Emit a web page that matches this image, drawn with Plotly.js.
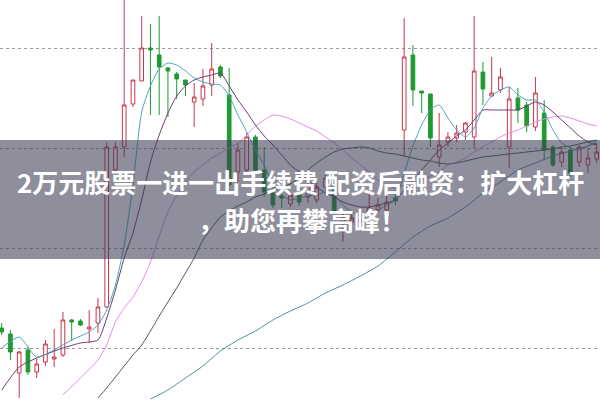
<!DOCTYPE html>
<html>
<head>
<meta charset="utf-8">
<script src="https://cdn.plot.ly/plotly-3.0.1.min.js"></script>
<style>html,body{margin:0;padding:0;background:#fff;}#chart{width:600px;height:400px;}</style>
</head>
<body>
<div id="chart"></div>
<script>
// OHLC values (69 candles)
const openP  = [9.20,9.14,8.75,8.98,8.76,8.86,8.89,8.93,9.28,9.27,9.19,9.25,9.41,10.78,11.01,11.44,11.67,12.00,11.93,11.80,11.74,11.68,11.46,11.49,11.63,11.81,11.53,10.76,10.78,11.11,10.78,10.55,10.52,10.44,10.56,10.51,10.48,10.61,10.60,10.26,10.26,10.26,10.36,10.38,10.38,10.50,11.18,11.93,11.57,11.54,10.91,11.06,11.10,11.16,11.11,11.76,11.52,11.58,11.01,11.50,11.43,11.21,11.35,11.01,10.86,10.98,10.86,10.83,10.89];
const highP  = [9.25,9.18,8.97,9.02,8.89,9.08,9.19,9.36,9.29,9.29,9.38,9.50,11.06,11.06,12.53,11.68,12.32,12.24,12.32,11.81,11.76,11.68,11.65,11.79,12.05,11.83,11.80,11.05,11.15,11.13,11.01,10.61,10.55,10.56,10.60,10.71,10.65,10.73,10.66,10.35,10.34,10.30,10.55,10.50,10.58,10.58,12.30,12.03,11.57,11.54,11.35,11.16,11.23,11.26,12.32,11.86,11.91,11.80,11.61,11.60,11.46,11.71,11.48,11.03,11.01,11.01,11.03,11.00,11.05];
const lowP   = [9.13,8.88,8.50,8.73,8.70,8.82,8.81,8.91,9.07,9.22,9.05,9.15,9.40,10.76,10.91,11.41,11.67,11.33,11.33,11.31,11.49,11.52,11.21,11.42,11.52,11.70,10.53,10.66,10.75,10.76,10.51,10.40,10.40,10.41,10.42,10.45,10.45,10.53,10.32,10.06,10.22,10.24,10.35,10.36,10.37,10.43,10.91,11.42,11.35,11.01,10.81,11.01,11.06,11.08,11.00,11.43,11.51,11.55,10.80,11.25,11.16,11.17,10.88,10.81,10.81,10.71,10.81,10.75,10.85];
const closeP = [9.16,8.96,8.96,8.76,8.84,9.04,8.91,9.28,9.26,9.23,9.21,9.41,11.01,11.01,11.43,11.68,12.00,11.98,11.81,11.77,11.69,11.63,11.51,11.62,11.79,11.72,10.63,10.98,11.11,10.78,10.56,10.43,10.50,10.53,10.46,10.63,10.61,10.70,10.35,10.30,10.30,10.28,10.40,10.43,10.46,10.47,11.91,11.58,11.55,11.10,11.03,11.11,11.15,11.25,11.77,11.59,11.55,11.71,11.49,11.38,11.22,11.55,10.98,10.83,10.96,10.75,11.01,10.90,10.96];

// moving-average lines (null = not read at that candle)
const ma5  = [9.00,null,9.11,null,8.91,null,null,9.03,9.08,null,9.16,9.23,9.38,9.63,10.03,10.63,11.36,11.62,11.79,11.85,11.83,11.77,11.70,11.66,11.64,11.63,11.52,11.33,11.16,10.98,10.83,10.63,10.53,10.48,10.50,10.52,10.53,10.56,10.53,10.43,10.36,10.33,10.35,10.38,10.43,10.48,10.75,11.02,11.23,11.38,11.43,11.30,11.18,11.11,11.20,11.40,11.52,11.58,11.61,11.53,11.48,11.48,11.36,11.18,11.05,11.00,10.98,11.02,11.07];
const ma10 = [8.58,null,8.81,null,8.90,null,null,9.00,null,9.05,null,9.08,9.30,9.58,9.90,10.15,10.48,10.86,11.13,11.35,11.52,11.62,11.68,11.71,11.73,11.75,11.62,11.48,11.36,11.23,11.12,11.03,10.93,10.83,10.76,10.68,10.61,10.55,10.51,10.46,10.43,10.41,10.41,10.43,10.45,10.48,10.58,10.68,10.78,10.88,10.98,11.05,11.12,11.18,11.28,11.38,11.38,11.38,11.38,11.38,11.42,11.46,11.43,11.36,11.28,11.20,11.12,11.06,11.03];
const ma20 = [null,null,null,null,null,null,null,8.53,null,8.70,null,8.88,9.03,9.26,9.40,9.51,9.66,9.86,10.12,10.36,10.53,10.66,10.76,10.83,10.90,10.95,11.00,11.05,11.13,11.22,11.28,11.33,11.32,11.29,11.25,11.21,11.17,11.11,11.05,10.98,10.90,10.83,10.76,10.68,10.63,10.60,10.63,10.65,10.68,10.72,10.76,10.83,10.86,10.90,10.96,11.01,11.06,11.11,11.15,11.18,11.22,11.26,11.29,11.31,11.32,11.30,11.27,11.24,11.22];
const ma30 = [null,null,null,null,null,null,null,null,null,null,null,8.50,8.60,8.71,8.82,8.93,9.03,9.17,9.32,9.46,9.60,9.75,9.90,10.08,10.20,10.31,10.37,10.42,10.46,10.51,10.54,10.58,10.61,10.64,10.70,10.78,10.85,10.91,10.96,10.99,11.00,11.01,11.00,10.97,10.95,10.94,10.92,10.90,10.88,10.87,10.85,10.84,10.85,10.87,10.89,10.91,10.92,10.93,10.94,10.95,10.96,10.97,10.98,10.99,11.01,11.02,11.04,11.06,11.08];
const ma60 = [null,null,null,null,null,null,null,null,null,null,null,null,null,null,null,null,null,8.49,null,8.58,null,8.70,null,8.82,null,8.97,null,9.08,null,9.17,null,9.28,null,9.37,null,9.45,null,9.55,null,9.63,null,9.72,null,9.82,null,9.96,null,10.11,null,10.22,null,10.30,null,10.41,null,10.55,null,10.66,null,10.78,null,10.85,null,10.92,null,10.97,null,11.02,11.05];

const gridPrices = [9, 10, 11, 12];
const line1 = "2万元股票一进一出手续费 配资后融资：扩大杠杆";
const line2 = "，助您再攀高峰！";

const idx = closeP.map((_, i) => i);

const candle = {
  type: 'candlestick', x: idx, open: openP, high: highP, low: lowP, close: closeP,
  increasing: {line: {color: '#c8364a', width: 1}, fillcolor: '#ffffff'},
  decreasing: {line: {color: '#1f9a30', width: 1}, fillcolor: '#1f9a30'},
  whiskerwidth: 0, hoverinfo: 'skip', showlegend: false
};
function maTrace(y, color) {
  return {type: 'scatter', mode: 'lines', x: idx, y: y, connectgaps: true,
    line: {color: color, width: 1, shape: 'spline', smoothing: 0.6}, hoverinfo: 'skip', showlegend: false};
}
const traces = [
  maTrace(ma60, '#4f8f9c'),
  maTrace(ma30, '#3e5e4c'),
  maTrace(ma20, '#e08ce6'),
  maTrace(ma10, '#6e3a72'),
  maTrace(ma5,  '#4aa6b6'),
  candle
];

const layout = {
  width: 600, height: 400,
  margin: {l: 0, r: 0, t: 0, b: 0},
  paper_bgcolor: '#ffffff', plot_bgcolor: '#ffffff',
  boxgap: 0.4,
  xaxis: {range: [-0.194, 68.38], showgrid: false, zeroline: false, showticklabels: false,
          ticks: '', showline: false, rangeslider: {visible: false}, fixedrange: true},
  yaxis: {range: [8.48, 12.48], tickmode: 'array', tickvals: gridPrices, showgrid: true,
          gridcolor: '#9a9a9a', griddash: 'dot', gridwidth: 1, zeroline: false,
          showticklabels: false, ticks: '', showline: false, fixedrange: true},
  shapes: [{type: 'rect', xref: 'paper', yref: 'paper', x0: 0, x1: 1, y0: 1 - 259/400, y1: 1 - 140/400,
            fillcolor: 'rgba(60,60,85,0.58)', line: {width: 0}, layer: 'above'}],
  annotations: [
    {xref: 'paper', yref: 'paper', x: 0.5, y: 1 - 181/400, xanchor: 'center', yanchor: 'middle',
     text: line1, showarrow: false,
     font: {family: 'Noto Sans CJK SC, Noto Sans, sans-serif', size: 26, color: '#ffffff', weight: 'bold'}},
    {xref: 'paper', yref: 'paper', x: 0.503, y: 1 - 219/400, xanchor: 'center', yanchor: 'middle',
     text: line2, showarrow: false,
     font: {family: 'Noto Sans CJK SC, Noto Sans, sans-serif', size: 26, color: '#ffffff', weight: 'bold'}}
  ]
};
Plotly.newPlot('chart', traces, layout, {displayModeBar: false, staticPlot: true});
</script>
</body>
</html>
